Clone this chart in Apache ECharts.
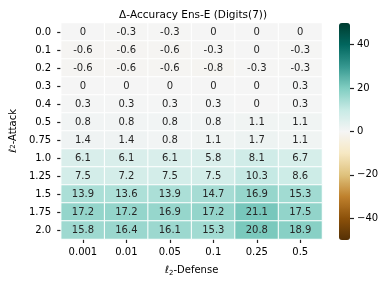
<!DOCTYPE html>
<html><head><meta charset="utf-8">
<script src="https://cdn.jsdelivr.net/npm/echarts@6/dist/echarts.min.js"></script>
<style>html,body{margin:0;padding:0;background:#fff}#c{width:385px;height:282px}</style>
</head><body><div id="c"></div>
<script>
const defenseLabels = ['0.001','0.01','0.05','0.1','0.25','0.5'];
const attackLabels = ['0.0','0.1','0.2','0.3','0.4','0.5','0.75','1.0','1.25','1.5','1.75','2.0'];
const row00 = [0, -0.3, -0.3, 0, 0, 0];
const row01 = [-0.6, -0.6, -0.6, -0.3, 0, -0.3];
const row02 = [-0.6, -0.6, -0.6, -0.8, -0.3, -0.3];
const row03 = [0, 0, 0, 0, 0, 0.3];
const row04 = [0.3, 0.3, 0.3, 0.3, 0, 0.3];
const row05 = [0.8, 0.8, 0.8, 0.8, 1.1, 1.1];
const row075 = [1.4, 1.4, 0.8, 1.1, 1.7, 1.1];
const row10 = [6.1, 6.1, 6.1, 5.8, 8.1, 6.7];
const row125 = [7.5, 7.2, 7.5, 7.5, 10.3, 8.6];
const row15 = [13.9, 13.6, 13.9, 14.7, 16.9, 15.3];
const row175 = [17.2, 17.2, 16.9, 17.2, 21.1, 17.5];
const row20 = [15.8, 16.4, 16.1, 15.3, 20.8, 18.9];
const colorMin = -50, colorMax = 50;
const tickMin = -40, tickMax = 40, tickStep = 20;

const rows = [row00,row01,row02,row03,row04,row05,row075,row10,row125,row15,row175,row20];
const data = [];
rows.forEach((r, yi) => r.forEach((v, xi) => data.push([xi, yi, v])));

const brbg = ['#543005','#8c510a','#bf812d','#dfc27d','#f6e8c3','#f5f5f5','#c7eae5','#80cdc1','#35978f','#01665e','#003c30'];
const fmtMinus = v => (v < 0 ? '\u2212' + Math.abs(v) : String(v));
const hiddenLine = {show: false};
const tickStyle = {color: '#222', width: 1.2};

const cbTop = 23, cbH = 217;
const axTop = cbTop + cbH * (colorMax - tickMax) / (colorMax - colorMin);
const axH = cbH * (tickMax - tickMin) / (colorMax - colorMin);

const chart = echarts.init(document.getElementById('c'), null, {renderer: 'canvas'});
chart.setOption({
  animation: false,
  backgroundColor: '#fff',
  textStyle: {fontFamily: 'DejaVu Sans'},
  title: {
    text: '\u0394-Accuracy Ens-E (Digits(7))',
    left: 188, top: 5, textAlign: 'center',
    textStyle: {fontSize: 10.5, fontWeight: 'normal', color: '#000', fontFamily: 'DejaVu Sans'}
  },
  grid: [
    {left: 55, top: 23, width: 267, height: 216},
    {left: 339, top: axTop, width: 11, height: axH}
  ],
  xAxis: [
    {type: 'category', data: defenseLabels, gridIndex: 0,
     axisLine: hiddenLine, axisTick: {show: true, alignWithLabel: true, length: 4, lineStyle: tickStyle},
     axisLabel: {color: '#000', fontSize: 10, margin: 8},
     splitLine: {show: false},
     name: '{l|\u2113}{s|2}-Defense', nameLocation: 'middle', nameGap: 25,
     nameTextStyle: {color: '#000', fontSize: 10, rich: {l: {fontStyle: 'italic', fontSize: 10, color:'#000'}, s: {fontSize: 7, color:'#000', verticalAlign: 'bottom', padding: [6,0,0,0]}}}},
    {type: 'category', data: [''], gridIndex: 1, show: false}
  ],
  yAxis: [
    {type: 'category', data: attackLabels, gridIndex: 0, inverse: true,
     axisLine: hiddenLine, axisTick: {show: true, alignWithLabel: true, length: 4, lineStyle: tickStyle},
     axisLabel: {color: '#000', fontSize: 10, margin: 10},
     splitLine: {show: false},
     name: '{l|\u2113}{s|2}-Attack', nameLocation: 'middle', nameGap: 36, nameRotate: 90,
     nameTextStyle: {color: '#000', fontSize: 10, rich: {l: {fontStyle: 'italic', fontSize: 10, color:'#000'}, s: {fontSize: 7, color:'#000'}}}},
    {type: 'value', gridIndex: 1, position: 'right', min: tickMin, max: tickMax, interval: tickStep,
     axisLine: hiddenLine, splitLine: {show: false},
     axisTick: {show: true, inside: false, length: 4, lineStyle: tickStyle},
     axisLabel: {show: true, color: '#000', fontSize: 10, margin: 7, formatter: fmtMinus}}
  ],
  visualMap: {
    type: 'continuous', min: colorMin, max: colorMax, calculable: false, show: true,
    seriesIndex: 0, orient: 'vertical', left: 339, top: cbTop, itemWidth: 11, itemHeight: cbH,
    padding: 0, text: null, showLabel: false, hoverLink: false,
    inRange: {color: brbg}
  },
  series: [{
    type: 'heatmap', xAxisIndex: 0, yAxisIndex: 0, data: data,
    label: {show: true, color: '#262626', fontSize: 10, fontFamily: 'DejaVu Sans', formatter: p => String(p.value[2])},
    itemStyle: {borderColor: '#fff', borderWidth: 1},
    emphasis: {disabled: true}
  }]
});
</script></body></html>
